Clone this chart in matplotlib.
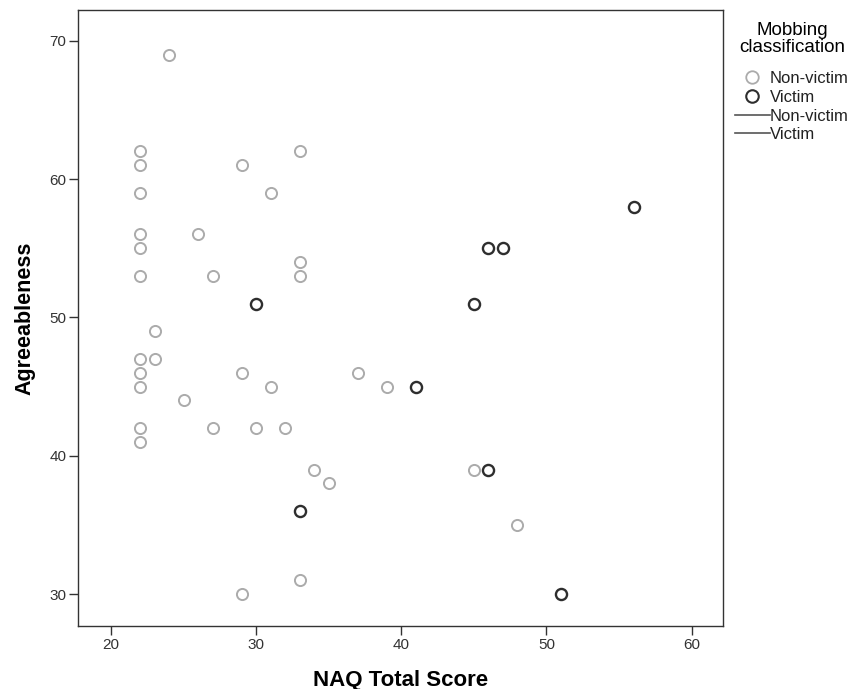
import matplotlib
matplotlib.use("Agg")
import matplotlib.pyplot as plt
from matplotlib.lines import Line2D

plt.rcParams['font.family'] = ['Liberation Sans', 'DejaVu Sans']

nonvictim_x = [24, 22, 33, 22, 29, 22, 31, 22, 26, 22, 33, 22, 27, 33, 23, 22, 23, 22, 29, 37,
               22, 31, 39, 25, 22, 27, 30, 32, 22, 34, 45, 35, 48, 33, 29]
nonvictim_y = [69, 62, 62, 61, 61, 59, 59, 56, 56, 55, 54, 53, 53, 53, 49, 47, 47, 46, 46, 46,
               45, 45, 45, 44, 42, 42, 42, 42, 41, 39, 39, 38, 35, 31, 30]
victim_x = [56, 46, 47, 30, 45, 41, 46, 33, 51]
victim_y = [58, 55, 55, 51, 51, 45, 39, 36, 30]

x_ticks = [20, 30, 40, 50, 60]
y_ticks = [30, 40, 50, 60, 70]

nv_color = '#ababab'
v_color = '#2e2e2e'

fig = plt.figure(figsize=(8.54, 6.89), dpi=100)
L, R, T, B = 78.3, 723.3, 10.0, 625.7
ax = fig.add_axes([L/854, 1-B/689, (R-L)/854, (B-T)/689])

ax.plot(nonvictim_x, nonvictim_y, linestyle='none', marker='o', markersize=8,
        markerfacecolor='none', markeredgecolor=nv_color, markeredgewidth=1.4)
ax.plot(victim_x, victim_y, linestyle='none', marker='o', markersize=8,
        markerfacecolor='none', markeredgecolor=v_color, markeredgewidth=1.7)

ax.set_xlim(17.75, 62.18)
ax.set_ylim(27.71, 72.22)
ax.set_xticks(x_ticks)
ax.set_yticks(y_ticks)
ax.tick_params(direction='out', length=6.5, width=1, labelsize=11, pad=2,
               colors='#333333')
for s in ax.spines.values():
    s.set_linewidth(1.0)
    s.set_color('#333333')

ax.set_xlabel('NAQ Total Score', fontsize=16, fontweight='bold', labelpad=13)
ax.set_ylabel('Agreeableness', fontsize=15.5, fontweight='bold', labelpad=10)

handles = [
    Line2D([], [], linestyle='none', marker='o', markersize=9, markerfacecolor='none',
           markeredgecolor=nv_color, markeredgewidth=1.3),
    Line2D([], [], linestyle='none', marker='o', markersize=9, markerfacecolor='none',
           markeredgecolor=v_color, markeredgewidth=1.5),
    Line2D([], [], color='#555555', linewidth=1.2),
    Line2D([], [], color='#555555', linewidth=1.2),
]
labels = ['Non-victim', 'Victim', 'Non-victim', 'Victim']
leg = fig.legend(handles, labels, title='Mobbing\nclassification',
                 loc='upper left', bbox_to_anchor=(735/854, 1-22/689),
                 frameon=False, fontsize=12, title_fontsize=13.5,
                 handlelength=2.1, handletextpad=0.0, labelspacing=0.22,
                 borderaxespad=0, borderpad=0, alignment='center')
leg.get_title().set_linespacing(1.0)
leg.get_title().set_multialignment('center')
leg._legend_box.sep = 11
for t in leg.get_texts():
    t.set_color('#222222')

fig.savefig('out.png', dpi=100)
